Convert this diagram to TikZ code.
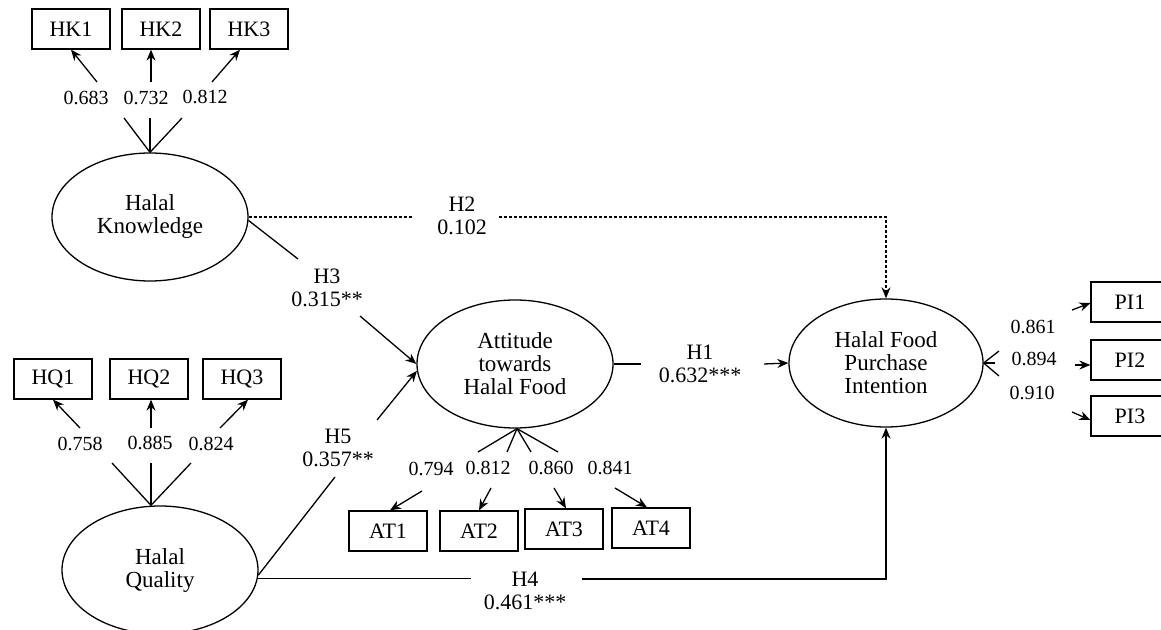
\documentclass[tikz,border=0pt]{standalone}
\usepackage{fontspec}
\setmainfont{Liberation Serif}
\usetikzlibrary{shapes.geometric,arrows.meta,calc}
\tikzset{
  lat/.style={ellipse,draw,line width=0.65pt,minimum width=98pt,minimum height=64pt,inner sep=0pt,align=center,font=\fontsize{11.5}{11.5}\selectfont},
  obs/.style={rectangle,draw,line width=0.65pt,minimum width=39pt,minimum height=20pt,inner sep=0pt,font=\fontsize{11}{11}\selectfont},
  ld/.style={inner sep=0pt,font=\fontsize{10}{10}\selectfont},
  hyp/.style={inner sep=0pt,align=center,font=\fontsize{11}{11.5}\selectfont},
  ln/.style={line width=0.65pt},
  tip/.style={-{Stealth[length=5.5pt,width=4.5pt]}},
  arr/.style={line width=0.65pt,tip},
  dsh/.style={line width=0.65pt,dash pattern=on 1.5pt off 1pt}
}
\begin{document}
\begin{tikzpicture}[x=0.5pt,y=-0.5pt]
\clip (0,0) rectangle (1161,630);
\fill[white] (0,0) rectangle (1161,630);
% latent variables
\node[lat] (hk) at (150,217) {Halal\\Knowledge};
\node[lat] (hq) at (160,570) {Halal\\Quality};
\node[lat] (at) at (515,364) {Attitude\\towards\\Halal Food};
\node[lat,minimum width=97pt] (pi) at (886,363) {Halal Food\\Purchase\\Intention};
% indicators
\node[obs] (hk1) at (71,29) {HK1};
\node[obs] (hk2) at (161,29) {HK2};
\node[obs] (hk3) at (249,29) {HK3};
\node[obs] (hq1) at (53,379) {HQ1};
\node[obs] (hq2) at (149,379) {HQ2};
\node[obs] (hq3) at (242,379) {HQ3};
\node[obs] (at1) at (388,531) {AT1};
\node[obs] (at2) at (479,531) {AT2};
\node[obs] (at3) at (564,529) {AT3};
\node[obs] (at4) at (651,528) {AT4};
\node[obs] (pi1) at (1130,302) {PI1};
\node[obs] (pi2) at (1130,360) {PI2};
\node[obs] (pi3) at (1130,416) {PI3};
% HK loadings
\coordinate (hkm1) at (124,118);
\coordinate (hkm2) at (150,118);
\coordinate (hkm3) at (182,118);
\coordinate (hka1) at (97,82);
\coordinate (hka2) at (151,82);
\coordinate (hka3) at (212,82);
\draw[ln] (hk.north) -- (hkm1);
\draw[ln] (hk.north) -- (hkm2);
\draw[ln] (hk.north) -- (hkm3);
\node[ld] (lhk1) at (86,98) {0.683};
\node[ld] (lhk2) at (146,98) {0.732};
\node[ld] (lhk3) at (205,97) {0.812};
\draw[arr] (hka1) -- (hk1.south);
\draw[arr] (hka2) -- (hka2 |- hk2.south);
\draw[arr] (hka3) -- ([xshift=-4.5pt]hk3.south);
% HQ loadings
\coordinate (hqtop) at ([xshift=-4.5pt]hq.north);
\coordinate (hqm1) at (112,463);
\coordinate (hqm2) at (151,463);
\coordinate (hqm3) at (191,463);
\coordinate (hqa1) at (80,428);
\coordinate (hqa2) at (151,428);
\coordinate (hqa3) at (220,428);
\draw[ln] (hqtop) -- (hqm1);
\draw[ln] (hqtop) -- (hqm2);
\draw[ln] (hqtop) -- (hqm3);
\node[ld] (lhq1) at (80,444) {0.758};
\node[ld] (lhq2) at (150,443) {0.885};
\node[ld] (lhq3) at (211,444) {0.824};
\draw[arr] (hqa1) -- (hq1.south);
\draw[arr] (hqa2) -- (hqa2 |- hq2.south);
\draw[arr] (hqa3) -- ([xshift=3pt]hq3.south);
% AT loadings
\coordinate (atm1) at (478,452);
\coordinate (atm2) at (507,452);
\coordinate (atm3) at (531,452);
\coordinate (atm4) at (558,452);
\coordinate (ata1) at (422,491);
\coordinate (ata2) at (491,488);
\coordinate (ata3) at (554,488);
\coordinate (ata4) at (615,488);
\draw[ln] ([xshift=1pt]at.south) -- (atm1);
\draw[ln] ([xshift=1pt]at.south) -- (atm2);
\draw[ln] ([xshift=1pt]at.south) -- (atm3);
\draw[ln] ([xshift=1pt]at.south) -- (atm4);
\node[ld] (lat1) at (431,469) {0.794};
\node[ld] (lat2) at (488,468) {0.812};
\node[ld] (lat3) at (551,468) {0.860};
\node[ld] (lat4) at (610,468) {0.841};
\draw[arr] (ata1) -- ([xshift=1pt]at1.north);
\draw[arr] (ata2) -- (at2.north);
\draw[arr] (ata3) -- ([xshift=1pt]at3.north);
\draw[arr] (ata4) -- ([xshift=-2pt]at4.north);
% PI loadings
\coordinate (pim1) at (999,351);
\coordinate (pim2) at (995,363);
\coordinate (pim3) at (999,376);
\draw[ln] (pi.east) -- (pim1);
\draw[ln] (pi.east) -- (pim2);
\draw[ln] (pi.east) -- (pim3);
\node[ld] (lpi1) at (1033,327) {0.861};
\node[ld] (lpi2) at (1034,359) {0.894};
\node[ld] (lpi3) at (1032,393) {0.910};
\coordinate (pia1) at (1072,310);
\coordinate (pia2) at (1075,365);
\coordinate (pia3) at (1072,412);
\draw[arr] (pia1) -- ([yshift=-0.5pt]pi1.west);
\draw[arr] (pia2) -- ([yshift=-2.5pt]pi2.west);
\draw[arr] (pia3) -- ([yshift=-2pt]pi3.west);
% H2
\node[hyp] (h2) at (462,216) {H2\\0.102};
\coordinate (h2a) at (413,217);
\coordinate (h2b) at (499,217);
\draw[dsh] (hk.east) -- (h2a);
\draw[dsh,tip] (h2b) -| (pi.north);
% H3
\node[hyp] (h3) at (327,288) {H3\\0.315**};
\coordinate (h3a) at (298,259);
\coordinate (h3b) at (360,316);
\draw[ln] (hk.-2) -- (h3a);
\draw[arr] (h3b) -- (at.west);
% H5
\node[hyp] (h5) at (338,448) {H5\\0.357**};
\coordinate (h5a) at (335,477);
\coordinate (h5b) at (377,420);
\draw[ln] (hq.-3) -- (h5a);
\draw[arr] (h5b) -- (at.-176);
% H1
\node[hyp] (h1) at (700,364) {H1\\0.632***};
\coordinate (h1a) at (641,364);
\coordinate (h1b) at (764,364);
\draw[ln] (at.east) -- (h1a);
\draw[arr] (h1b) -- (pi.west);
% H4
\node[hyp] (h4) at (525,591) {H4\\0.461***};
\coordinate (h4s) at (hq.-5);
\coordinate (h4a) at (471,579);
\coordinate (h4b) at (582,579);
\draw[ln] (h4s) -- (h4s -| h4a);
\draw[arr] (h4b) -| (pi.south);
\end{tikzpicture}
\end{document}
